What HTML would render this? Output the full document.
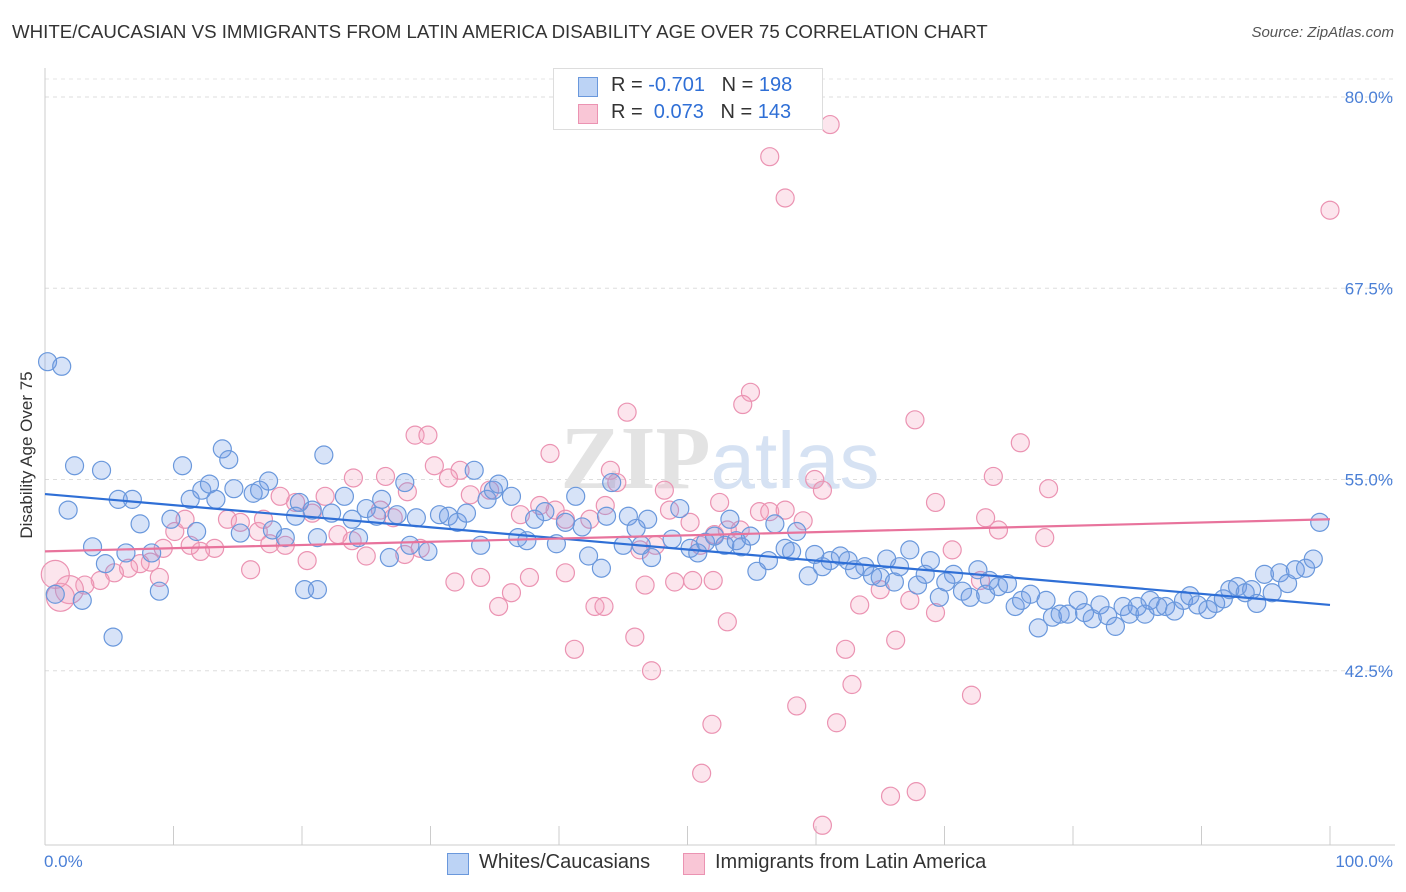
<!DOCTYPE html>
<html><head><meta charset="utf-8">
<style>
body{margin:0;background:#fff;font-family:"Liberation Sans",sans-serif;}
#wrap{position:relative;width:1406px;height:892px;overflow:hidden;}
.t{position:absolute;white-space:nowrap;}
</style></head>
<body>
<div id="wrap">
<div class="t" style="left:12px;top:21px;font-size:18.7px;color:#333;">WHITE/CAUCASIAN VS IMMIGRANTS FROM LATIN AMERICA DISABILITY AGE OVER 75 CORRELATION CHART</div>
<div class="t" style="right:12px;top:24px;font-size:15px;color:#555;font-style:italic;">Source: ZipAtlas.com</div>
<svg id="svg" width="1406" height="892" style="position:absolute;left:0;top:0"></svg>
</div>
<script>
const xTicks=[0,10,20,30,40,50,60,70,80,90,100];
const yTicks=[42.5,55.0,67.5,80.0];
const yTickLabels=["42.5%","55.0%","67.5%","80.0%"];
const blueX=[0.2,1.3,2.3,4.4,1.8,3.7,4.7,5.7,6.8,7.4,6.3,8.3,8.9,9.8,10.7,11.3,11.8,12.2,12.8,13.3,13.8,14.3,14.7,15.2,16.2,16.7,17.4,17.7,18.7,19.5,19.8,20.8,21.2,21.7,22.3,23.3,23.9,24.4,25.0,25.8,26.2,26.8,27.4,28.0,28.4,28.9,29.8,30.7,31.4,32.1,32.8,33.4,33.9,34.4,34.9,35.3,36.3,36.8,37.5,38.1,38.9,39.8,40.5,41.3,41.8,42.3,43.3,43.7,44.1,45.0,45.4,46.0,46.4,46.9,47.2,48.8,49.4,50.2,50.8,51.4,52.1,52.9,53.3,53.8,54.2,54.9,55.4,56.3,56.8,57.6,58.1,58.5,59.4,59.9,60.5,61.1,61.9,62.5,63.0,63.8,64.4,65.0,65.5,66.1,66.5,67.3,67.9,68.5,68.9,69.6,70.1,70.7,71.4,72.0,72.6,73.2,73.5,74.2,74.9,75.5,76.0,76.7,77.3,77.9,78.4,79.0,79.6,80.4,80.9,81.5,82.1,82.7,83.3,83.9,84.4,85.0,85.6,86.0,86.6,87.2,87.9,88.6,89.1,89.7,90.5,91.1,91.7,92.2,92.8,93.4,93.9,94.3,94.9,95.5,96.1,96.7,97.3,98.1,98.7,99.2,5.3,2.9,0.8,20.2,21.2];
const blueY=[62.7,62.4,55.9,55.6,53.0,50.6,49.5,53.7,53.7,52.1,50.2,50.2,47.7,52.4,55.9,53.7,51.6,54.3,54.7,53.7,57.0,56.3,54.4,51.5,54.1,54.3,54.9,51.7,51.2,52.6,53.5,53.0,51.2,56.6,52.8,53.9,52.4,51.2,53.1,52.6,53.7,49.9,52.7,54.8,50.7,52.5,50.3,52.7,52.6,52.2,52.8,55.6,50.7,53.7,54.3,54.7,53.9,51.2,51.0,52.4,52.9,50.8,52.2,53.9,51.9,50.0,49.2,52.6,54.8,50.7,52.6,51.8,50.7,52.4,49.9,51.1,53.1,50.5,50.2,50.9,51.3,50.7,52.4,51.0,50.6,51.3,49.0,49.7,52.1,50.5,50.3,51.6,48.7,50.1,49.3,49.7,50.0,49.7,49.1,49.3,48.7,48.6,49.8,48.3,49.3,50.4,48.1,48.8,49.7,47.3,48.3,48.8,47.7,47.3,49.1,47.5,48.4,48.0,48.2,46.7,47.1,47.5,45.3,47.1,46.0,46.2,46.2,47.1,46.3,45.9,46.8,46.1,45.4,46.7,46.2,46.7,46.2,47.1,46.7,46.7,46.4,47.1,47.4,46.8,46.5,46.9,47.2,47.8,48.0,47.6,47.8,46.9,48.8,47.6,48.9,48.2,49.1,49.2,49.8,52.2,44.7,47.1,47.5,47.8,47.8];
const pinkX=[61.1,56.4,57.6,100,54.9,54.3,45.3,67.7,75.9,28.8,29.8,39.3,73.8,78.1,69.3,59.9,60.5,44.0,44.5,39.7,32.3,30.3,31.4,33.1,34.6,37.0,38.5,40.5,42.4,43.6,48.2,48.6,50.2,51.0,52.1,53.1,54.1,55.6,56.4,57.6,59.0,73.2,74.2,77.8,70.6,72.8,31.9,33.9,35.3,36.3,37.7,40.5,42.8,46.3,46.7,47.2,49.0,50.4,52.0,53.1,51.9,51.1,58.5,61.6,62.3,62.8,63.4,65.8,67.8,66.2,72.1,60.5,43.5,41.2,45.9,16.6,17.5,18.7,19.5,20.8,21.8,22.8,23.9,25.0,26.1,27.1,28.0,29.2,14.2,13.2,12.1,11.3,10.1,9.2,8.2,7.4,6.5,5.4,4.3,3.1,1.9,1.2,0.8,10.9,15.2,17.0,24.0,26.5,28.2,18.3,16.0,20.4,8.9,47.5,52.5,65.0,67.3,69.3];
const pinkY=[78.2,76.1,73.4,72.6,60.7,59.9,59.4,58.9,57.4,57.9,57.9,56.7,55.2,54.4,53.5,55.0,54.3,55.6,54.8,53.0,55.6,55.9,55.1,54.0,54.3,52.7,53.3,52.4,52.4,53.3,54.3,53.0,52.2,50.7,51.4,51.7,51.7,52.9,52.9,53.0,52.3,52.5,51.7,51.2,50.4,48.4,48.3,48.6,46.7,47.6,48.6,48.9,46.7,50.4,48.1,42.5,48.3,48.4,48.4,45.7,39.0,35.8,40.2,39.1,43.9,41.6,46.8,34.3,34.6,44.5,40.9,32.4,46.7,43.9,44.7,51.6,50.8,50.7,53.5,52.8,53.9,51.4,51.0,50.0,53.0,52.5,50.1,50.5,52.4,50.5,50.3,50.7,51.6,50.5,49.6,49.5,49.2,48.9,48.4,48.1,47.8,47.3,48.8,52.4,52.2,52.4,55.1,55.2,54.2,53.9,49.1,49.7,48.6,50.7,53.5,47.8,47.1,46.3];
const blueTrend=[54.05,46.8];
const pinkTrend=[50.3,52.4];

const NS="http://www.w3.org/2000/svg";
const svg=document.getElementById('svg');
const X0=45,X1=1330;
function xs(v){return X0+(X1-X0)*v/100;}
function ys(v){return 97+(80-v)*15.3;}
function mk(tag,attrs,parent){const e=document.createElementNS(NS,tag);for(const k in attrs)e.setAttribute(k,attrs[k]);(parent||svg).appendChild(e);return e;}

yTicks.forEach((t,i)=>{
  const g=mk('line',{x1:X0,x2:1395,y1:ys(t),y2:ys(t),stroke:'#ddd','stroke-dasharray':'4,4'});
  
  
  const tx=mk('text',{x:1393,y:ys(t)+6,'text-anchor':'end','font-size':'17',fill:'#4a7fd6','font-family':'Liberation Sans, sans-serif'});
  tx.textContent=yTickLabels[i];
  
  
});
const topGrid=mk('line',{x1:X0,x2:1395,y1:79,y2:79,stroke:'#e4e4e4','stroke-dasharray':'4,4'});


const yAxis=mk('line',{x1:X0,x2:X0,y1:68,y2:845,stroke:'#ccc'});


const xAxis=mk('line',{x1:X0,x2:1395,y1:845,y2:845,stroke:'#ccc'});


xTicks.forEach(t=>{
  const l=mk('line',{x1:xs(t),x2:xs(t),y1:826,y2:845,stroke:'#ccc'});
  
  
});
const wm=mk('text',{x:720,y:488,'text-anchor':'middle','font-size':'90','font-family':'Liberation Serif, serif',fill:'#e9e9e9'});
wm.innerHTML='<tspan font-weight="bold" fill="#e3e3e3">ZIP</tspan><tspan font-family="Liberation Sans, sans-serif" fill="#d6e2f3" font-size="80">atlas</tspan>';



function pts(xa,ya,fill,stroke,name,big){
  xa.forEach((x,i)=>{
    const r=(big && x<2.5)?14:9;
    const c=mk('circle',{cx:xs(x),cy:ys(ya[i]),r:r,fill:fill,stroke:stroke,'stroke-width':1.2});
    
    
  });
}
pts(pinkX,pinkY,'rgba(244,160,190,0.28)','#eb93b2','pink-point',true);
pts(blueX,blueY,'rgba(110,155,230,0.28)','#6a98dc','blue-point',false);
const bt=mk('line',{x1:xs(0),y1:ys(blueTrend[0]),x2:xs(100),y2:ys(blueTrend[1]),stroke:'#2f6fd6','stroke-width':2.2});


const pt=mk('line',{x1:xs(0),y1:ys(pinkTrend[0]),x2:xs(100),y2:ys(pinkTrend[1]),stroke:'#e8739c','stroke-width':2.2});


</script>
<div class="t" style="left:18px;top:455px;transform:translate(-50%,-50%) rotate(-90deg);transform-origin:center;font-size:17px;color:#333;margin-left:9px">Disability Age Over 75</div>
<div class="t" style="left:44px;top:852px;font-size:17px;color:#4a7fd6">0.0%</div>
<div class="t" style="right:13px;top:852px;font-size:17px;color:#4a7fd6">100.0%</div>
<div class="t" style="left:553px;top:68px;width:270px;height:62px;border:1px solid #ddd;background:#fff;box-sizing:border-box">
 <div style="position:absolute;left:24px;top:8px;width:18px;height:18px;background:#bcd3f5;border:1px solid #6a98dc"></div>
 <div style="position:absolute;left:24px;top:35px;width:18px;height:18px;background:#f9c6d6;border:1px solid #eb93b2"></div>
 <div class="t" style="left:57px;top:5px;font-size:20px;color:#333">R = <span style="color:#2f6fd6">-0.701</span>&nbsp;&nbsp;&nbsp;N = <span style="color:#2f6fd6">198</span></div>
 <div class="t" style="left:57px;top:32px;font-size:20px;color:#333">R = &nbsp;<span style="color:#2f6fd6">0.073</span>&nbsp;&nbsp;&nbsp;N = <span style="color:#2f6fd6">143</span></div>
</div>
<div class="t" style="left:447px;top:853px;width:20px;height:20px;background:#bcd3f5;border:1px solid #6a98dc"></div>
<div class="t" style="left:479px;top:851px;font-size:20px;color:#333">Whites/Caucasians</div>
<div class="t" style="left:683px;top:853px;width:20px;height:20px;background:#f9c6d6;border:1px solid #eb93b2"></div>
<div class="t" style="left:715px;top:851px;font-size:20px;color:#333">Immigrants from Latin America</div>
</body></html>
